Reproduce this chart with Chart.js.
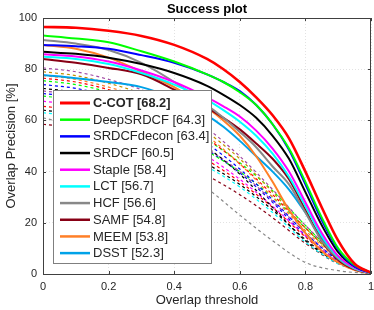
<!DOCTYPE html>
<html>
<head>
<meta charset="utf-8">
<script src="https://cdn.jsdelivr.net/npm/chart.js@4.4.0/dist/chart.umd.min.js"></script>
<style>
  html, body { margin: 0; padding: 0; background: #fff; }
  #wrap { width: 374px; height: 310px; }
</style>
</head>
<body>
<div id="wrap"><canvas id="chart" width="374" height="310"></canvas></div>
<script>
// thresholds for the top 10 trackers (solid)
const thresholds = [0, 0.1, 0.2, 0.3, 0.4, 0.5, 0.55, 0.6, 0.65, 0.7, 0.75, 0.8, 0.85, 0.9, 0.95, 1];
const trackerNames = ["C-COT", "DeepSRDCF", "SRDCFdecon", "SRDCF", "Staple", "LCT", "HCF", "SAMF", "MEEM", "DSST"];
const trackerScores = [68.2, 64.3, 63.4, 60.5, 58.4, 56.7, 56.6, 54.8, 53.8, 52.3];
const trackerColors = ["#ff0000", "#00ff00", "#0000ff", "#000000", "#ff00ff", "#00ffff", "#888888", "#880015", "#ff7f27", "#00a2e8"];

const ccot   = [96.5, 96.2, 95, 93, 89.5, 84, 80, 75, 69, 62, 53, 40, 26, 13, 4, 0.5];
const deep   = [93.2, 92, 90.5, 87, 83, 78, 75, 71, 66, 58.5, 49, 36, 22, 10, 3.5, 0.5];
const decon  = [89.5, 89, 88, 85.5, 82.5, 78, 75, 71.5, 66, 58.5, 48.5, 35, 21, 9.5, 3, 0.5];
const srdcf  = [86.8, 86, 84.5, 82, 78.5, 73.5, 70, 66, 61, 54, 45, 32, 19, 8.5, 3, 0.5];
const staple = [85.8, 85, 83, 79.5, 75, 69, 65.5, 61.5, 56, 49, 40, 28, 16, 7, 2.5, 0.4];
const lct    = [84.9, 84, 82, 78.5, 74, 68, 64, 59.5, 54, 47, 38, 26.5, 15, 6.5, 2.2, 0.3];
const hcf    = [91.4, 90, 87.5, 82.5, 75, 66, 61, 55.5, 49.5, 42, 35, 24, 13, 6, 2, 0.3];
const samf   = [84, 82.5, 80.5, 78, 72, 65, 61, 56.5, 51, 45, 37, 25, 13, 5.5, 1.8, 0.3];
const meem   = [89.5, 88, 84.5, 79, 73, 65, 60, 54, 46, 36, 25, 16, 9, 4.5, 1.5, 0.2];
const dsst   = [77.7, 76.5, 75, 73, 68.5, 62, 57.5, 52, 46, 40, 33, 24, 14, 6.5, 2, 0.3];
const topCurves = [ccot, deep, decon, srdcf, staple, lct, hcf, samf, meem, dsst];

// the remaining trackers (dashed, not in legend)
const otherThresholds = [0, 0.1, 0.2, 0.3, 0.4, 0.5, 0.6, 0.7, 0.8, 0.9, 1];
const otherColors = ["#a349a4", "#bf9000", "#ff7f27", "#ff0000", "#00ff00", "#0000ff", "#000000", "#a349a4",
                     "#00ff00", "#ff00ff", "#ff0000", "#00ffff", "#880015", "#888888", "#0000ff", "#000000"];
const otherCurves = [
  [80.5, 79, 76, 72, 66, 57, 46, 33, 19, 7, 0.5],
  [79, 77.5, 74.5, 70.5, 64.5, 55.5, 45, 32, 18, 6.5, 0.5],
  [77.5, 76, 73, 69, 63, 54, 43, 30, 17, 6, 0.4],
  [76.5, 75, 72, 67.5, 61.5, 53, 43, 31, 18, 6.5, 0.4],
  [75.5, 74, 71, 66.5, 60.5, 52.5, 43.5, 32.5, 19, 7, 0.5],
  [74, 72.5, 69.5, 65, 59, 51, 41, 29, 16, 5.5, 0.3],
  [72.5, 71, 68, 63.5, 57.5, 49.5, 39, 26, 13, 4.5, 0.3],
  [71.5, 70, 67, 62.5, 56.5, 49, 40, 28.5, 16, 5.5, 0.3],
  [69.5, 68, 65, 61, 55.5, 48, 40, 30, 18, 6.5, 0.4],
  [67.5, 66, 63, 59, 53, 46, 37, 26.5, 15, 5, 0.3],
  [65.5, 64, 61, 57, 51.5, 44.5, 36, 26, 14.5, 4.5, 0.3],
  [63, 61.5, 58.5, 54.5, 49, 42, 34, 24, 12.5, 4, 0.3],
  [58.5, 57, 54, 50, 45, 38.5, 31, 22, 12, 4, 0.3],
  [61, 58, 54, 48.5, 42, 33.5, 23, 13, 4.5, 1.3, 0.2],
  [70.5, 69, 66, 62, 56, 48.5, 39.5, 28, 15, 5, 0.3],
  [64, 62.5, 59.5, 55.5, 50, 43, 35, 25, 13.5, 4.5, 0.3]
];

const xTicks = [0, 0.2, 0.4, 0.6, 0.8, 1];
const yTicks = [0, 20, 40, 60, 80, 100];

const FONT = "'Liberation Sans', Arial, Helvetica, sans-serif";

const datasets = [];
topCurves.forEach((vals, i) => {
  datasets.push({
    label: trackerNames[i] + " [" + trackerScores[i].toFixed(1) + "]",
    data: thresholds.map((t, j) => ({ x: t, y: vals[j] })),
    borderColor: trackerColors[i],
    borderWidth: i === 0 ? 2.6 : 2,
    pointRadius: 0,
    fill: false,
    cubicInterpolationMode: "monotone"
  });
});
otherCurves.forEach((vals, i) => {
  datasets.push({
    label: "other" + i,
    data: otherThresholds.map((t, j) => ({ x: t, y: vals[j] })),
    borderColor: otherColors[i],
    borderWidth: 1.2,
    borderDash: [3, 3],
    pointRadius: 0,
    fill: false,
    cubicInterpolationMode: "monotone"
  });
});

// axes box, inward ticks and the legend drawn inside the plot area
const boxPlugin = {
  id: "box",
  afterDatasetsDraw(chart) {
    const ctx = chart.ctx;
    const a = chart.chartArea;
    const xs = chart.scales.x, ys = chart.scales.y;
    ctx.save();

    // legend
    const lx = 53.5, ly = 90.5, lw = 158, lh = 173;
    ctx.fillStyle = "#fff";
    ctx.fillRect(lx, ly, lw, lh);
    ctx.strokeStyle = "#7f7f7f";
    ctx.lineWidth = 1;
    ctx.strokeRect(lx, ly, lw, lh);
    trackerNames.forEach((name, i) => {
      const y = 103 + i * 16.68;
      ctx.strokeStyle = trackerColors[i];
      ctx.lineWidth = i === 0 ? 3 : 2.5;
      ctx.beginPath();
      ctx.moveTo(60, y);
      ctx.lineTo(90, y);
      ctx.stroke();
      ctx.fillStyle = "#262626";
      ctx.font = (i === 0 ? "bold 12.8px " : "13px ") + FONT;
      ctx.textBaseline = "middle";
      ctx.textAlign = "left";
      ctx.fillText(name + " [" + trackerScores[i].toFixed(1) + "]", 93, y + 0.5);
    });

    // box and ticks
    ctx.strokeStyle = "#404040";
    ctx.lineWidth = 1;
    ctx.strokeRect(Math.round(a.left) + 0.5, Math.round(a.top) + 0.5,
                   Math.round(a.right - a.left) - 1, Math.round(a.bottom - a.top));
    ctx.beginPath();
    xTicks.forEach(t => {
      const px = Math.round(xs.getPixelForValue(t)) + 0.5;
      ctx.moveTo(px, a.bottom); ctx.lineTo(px, a.bottom - 3);
      ctx.moveTo(px, a.top); ctx.lineTo(px, a.top + 3);
    });
    yTicks.forEach(v => {
      const py = Math.round(ys.getPixelForValue(v)) + 0.5;
      ctx.moveTo(a.left, py); ctx.lineTo(a.left + 3, py);
      ctx.moveTo(a.right, py); ctx.lineTo(a.right - 3, py);
    });
    ctx.stroke();
    ctx.restore();
  }
};

new Chart(document.getElementById("chart"), {
  type: "line",
  data: { datasets },
  plugins: [boxPlugin],
  options: {
    responsive: false,
    animation: false,
    layout: { padding: { left: 0, right: 0, top: 0, bottom: 0 } },
    plugins: {
      legend: { display: false },
      tooltip: { enabled: false },
      title: {
        display: true,
        text: "Success plot",
        fullSize: false,
        color: "#000",
        font: { family: FONT, size: 13, weight: "bold" },
        padding: { top: 1.5, bottom: 0.9 }
      }
    },
    scales: {
      x: {
        type: "linear",
        min: 0, max: 1,
        afterFit: s => { s.height = 36; s.paddingRight = 3; },
        afterBuildTicks: s => { s.ticks = xTicks.map(v => ({ value: v })); },
        ticks: {
          color: "#262626",
          padding: 6,
          font: { family: FONT, size: 11 },
          maxRotation: 0,
          callback: v => String(v)
        },
        grid: { color: "#e2e2e2", drawTicks: false },
        border: { display: false, dash: [1, 2] },
        title: {
          display: true,
          text: "Overlap threshold",
          color: "#262626",
          font: { family: FONT, size: 13 },
          padding: { top: 0, bottom: 1.5 }
        }
      },
      y: {
        min: 0, max: 100,
        afterFit: s => { s.width = 43; },
        afterBuildTicks: s => { s.ticks = yTicks.map(v => ({ value: v })); },
        ticks: {
          color: "#262626",
          padding: 6,
          font: { family: FONT, size: 11 }
        },
        grid: { color: "#e2e2e2", drawTicks: false },
        border: { display: false, dash: [1, 2] },
        title: {
          display: true,
          text: "Overlap Precision [%]",
          color: "#262626",
          font: { family: FONT, size: 13 },
          padding: { top: 4, bottom: 0 }
        }
      }
    }
  }
});
</script>
</body>
</html>
